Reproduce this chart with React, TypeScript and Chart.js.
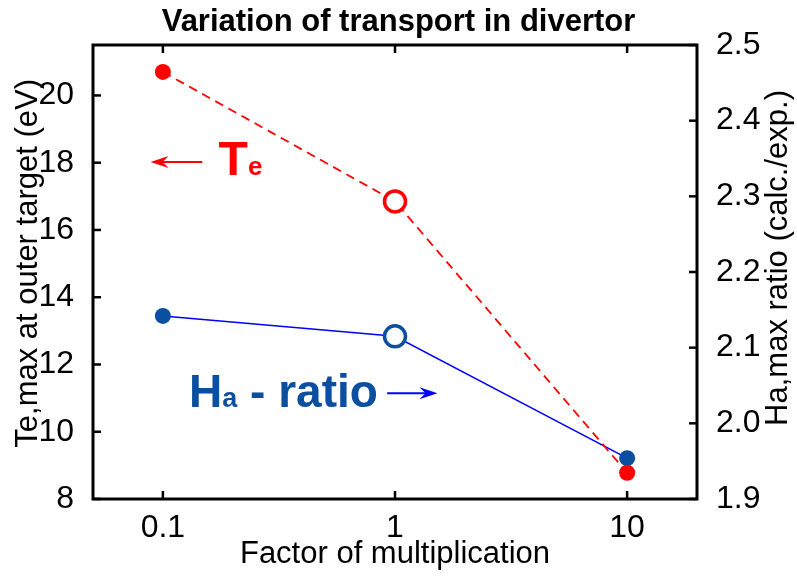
import React, { useEffect, useRef } from "react";
import { Chart, registerables } from "chart.js";

Chart.register(...registerables);

// ---- data ----
const factors = [0.1, 1, 10];
const teMax = [20.7, 16.85, 8.78];
const haRatio = [2.142, 2.115, 1.954];
const openMarker = [false, true, false];

const xTicks = [0.1, 1, 10];
const xTickLabels = ["0.1", "1", "10"];
const leftTicks = [8, 10, 12, 14, 16, 18, 20];
const rightTicks = [1.9, 2.0, 2.1, 2.2, 2.3, 2.4, 2.5];

const leftTitle = "Te,max at outer target (eV)";
const rightTitle = "Ha,max ratio (calc./exp.)";

// annotation anchors (data units)
const teArrowX = [0.1478, 0.0885];
const teArrowY = 18.02;
const teTextX = 0.1738;
const teTextY = 17.63;
const haTextX = 0.1297;
const haTextY = 2.022;
const haArrowX = [0.925, 1.524];
const haArrowY = 2.0397;

const FONT = "'Liberation Sans', Arial, Helvetica, sans-serif";
const RED = "#ff0000";
const BLUE_LINE = "#0000ff";
const BLUE_MARK = "#0b4fa0";

function arrow(ctx: CanvasRenderingContext2D, x1: number, x2: number, y: number, color: string) {
  const dir = x2 > x1 ? 1 : -1;
  ctx.save();
  ctx.strokeStyle = color;
  ctx.fillStyle = color;
  ctx.lineWidth = 2;
  ctx.beginPath();
  ctx.moveTo(x1, y);
  ctx.lineTo(x2 - dir * 8, y);
  ctx.stroke();
  ctx.beginPath();
  ctx.moveTo(x2, y);
  ctx.lineTo(x2 - dir * 18, y - 6);
  ctx.lineTo(x2 - dir * 12, y);
  ctx.lineTo(x2 - dir * 18, y + 6);
  ctx.closePath();
  ctx.fill();
  ctx.restore();
}

function vText(ctx: CanvasRenderingContext2D, text: string, baselineX: number, topY: number) {
  ctx.save();
  ctx.translate(baselineX, topY);
  ctx.rotate(-Math.PI / 2);
  ctx.textAlign = "right";
  ctx.textBaseline = "alphabetic";
  ctx.fillStyle = "#000";
  ctx.font = `31px ${FONT}`;
  ctx.fillText(text, 0, 0);
  ctx.restore();
}

const decorPlugin = {
  id: "decor",
  afterDraw(chart: any) {
    const { ctx, chartArea: a, scales } = chart;
    const line = (x1: number, y1: number, x2: number, y2: number) => {
      ctx.beginPath();
      ctx.moveTo(x1, y1);
      ctx.lineTo(x2, y2);
      ctx.stroke();
    };
    ctx.save();
    ctx.strokeStyle = "#000";
    ctx.lineWidth = 3;
    ctx.strokeRect(a.left, a.top, a.right - a.left, a.bottom - a.top);
    ctx.lineWidth = 2.5;
    const tl = 8;
    xTicks.forEach((v) => {
      const x = scales.x.getPixelForValue(v);
      line(x, a.bottom, x, a.bottom - tl);
      line(x, a.top, x, a.top + tl);
    });
    leftTicks.forEach((v) => {
      const y = scales.y.getPixelForValue(v);
      line(a.left, y, a.left + tl, y);
    });
    rightTicks.forEach((v) => {
      const y = scales.y1.getPixelForValue(v);
      line(a.right, y, a.right - tl, y);
    });

    // axis titles (both read bottom-to-top)
    vText(ctx, leftTitle, 37, 79);
    vText(ctx, rightTitle, 786.5, 90);

    // Te annotation
    const tay = scales.y.getPixelForValue(teArrowY);
    arrow(ctx, scales.x.getPixelForValue(teArrowX[0]), scales.x.getPixelForValue(teArrowX[1]), tay, RED);
    let tx = scales.x.getPixelForValue(teTextX);
    const tby = scales.y.getPixelForValue(teTextY);
    ctx.fillStyle = RED;
    ctx.textBaseline = "alphabetic";
    ctx.textAlign = "left";
    ctx.font = `bold 48px ${FONT}`;
    ctx.fillText("T", tx, tby);
    tx += ctx.measureText("T").width;
    ctx.font = `bold 26px ${FONT}`;
    ctx.fillText("e", tx, tby);

    // Ha annotation
    let hx = scales.x.getPixelForValue(haTextX);
    const hby = scales.y1.getPixelForValue(haTextY);
    ctx.fillStyle = BLUE_MARK;
    ctx.font = `bold 46px ${FONT}`;
    ctx.fillText("H", hx, hby);
    hx += ctx.measureText("H").width;
    ctx.font = `bold 27px ${FONT}`;
    ctx.fillText("a", hx, hby);
    hx += ctx.measureText("a").width;
    ctx.font = `bold 46px ${FONT}`;
    ctx.fillText(" - ratio", hx, hby);
    const hay = scales.y1.getPixelForValue(haArrowY);
    arrow(ctx, scales.x.getPixelForValue(haArrowX[0]), scales.x.getPixelForValue(haArrowX[1]), hay, BLUE_LINE);
    ctx.restore();
  },
};

export default function App() {
  const ref = useRef<HTMLCanvasElement | null>(null);
  useEffect(() => {
    if (!ref.current) return;
    const chart = new Chart(ref.current, {
      type: "line",
      data: {
        datasets: [
          {
            label: "Te",
            data: factors.map((f, i) => ({ x: f, y: teMax[i] })),
            yAxisID: "y",
            borderColor: RED,
            borderWidth: 1.8,
            borderDash: [9, 6],
            pointBackgroundColor: openMarker.map((o) => (o ? "#ffffff" : RED)),
            pointBorderColor: RED,
            pointBorderWidth: openMarker.map((o) => (o ? 3.5 : 0)),
            pointRadius: openMarker.map((o) => (o ? 10.5 : 8)),
            pointHoverRadius: openMarker.map((o) => (o ? 10.5 : 8)),
            tension: 0,
          },
          {
            label: "Ha",
            data: factors.map((f, i) => ({ x: f, y: haRatio[i] })),
            yAxisID: "y1",
            borderColor: BLUE_LINE,
            borderWidth: 1.5,
            pointBackgroundColor: openMarker.map((o) => (o ? "#ffffff" : BLUE_MARK)),
            pointBorderColor: BLUE_MARK,
            pointBorderWidth: openMarker.map((o) => (o ? 3.5 : 0)),
            pointRadius: openMarker.map((o) => (o ? 10.5 : 8)),
            pointHoverRadius: openMarker.map((o) => (o ? 10.5 : 8)),
            tension: 0,
          },
        ],
      },
      options: {
        responsive: false,
        animation: false,
        devicePixelRatio: 1,
        layout: { padding: 0 },
        plugins: {
          legend: { display: false },
          tooltip: { enabled: false },
          title: {
            display: true,
            text: "Variation of transport in divertor",
            color: "#000",
            font: { family: FONT, size: 31, weight: "bold", lineHeight: 1.2 },
            padding: { top: 4, bottom: 3.8 },
          },
        },
        scales: {
          x: {
            type: "logarithmic",
            min: 0.05,
            max: 20,
            grid: { display: false },
            border: { display: false },
            afterBuildTicks: (s: any) => {
              s.ticks = xTicks.map((v) => ({ value: v }));
            },
            afterFit: (s: any) => {
              s.height = 77;
            },
            ticks: {
              autoSkip: false,
              maxRotation: 0,
              color: "#000",
              padding: 2,
              font: { family: FONT, size: 32, lineHeight: 1.2 },
              callback: (v: any) => xTickLabels[xTicks.indexOf(Number(v))] ?? "",
            },
            title: {
              display: true,
              text: "Factor of multiplication",
              color: "#000",
              font: { family: FONT, size: 31, lineHeight: 1.2 },
              padding: { top: 0, bottom: 3 },
            },
          },
          y: {
            position: "left",
            min: 8,
            max: 21.5,
            grid: { display: false },
            border: { display: false },
            afterBuildTicks: (s: any) => {
              s.ticks = leftTicks.map((v) => ({ value: v }));
            },
            afterFit: (s: any) => {
              s.width = 93;
            },
            ticks: {
              autoSkip: false,
              color: "#000",
              padding: 11,
              font: { family: FONT, size: 32 },
              callback: (v: any) => String(v),
            },
            title: { display: false },
          },
          y1: {
            position: "right",
            min: 1.9,
            max: 2.5,
            grid: { display: false },
            border: { display: false },
            afterBuildTicks: (s: any) => {
              s.ticks = rightTicks.map((v) => ({ value: v }));
            },
            afterFit: (s: any) => {
              s.width = 100;
            },
            ticks: {
              autoSkip: false,
              color: "#000",
              padding: 11,
              font: { family: FONT, size: 32 },
              callback: (v: any) => Number(v).toFixed(1),
            },
            title: { display: false },
          },
        },
      },
      plugins: [decorPlugin],
    } as any);
    return () => chart.destroy();
  }, []);

  return (
    <div style={{ position: "fixed", left: 0, top: 0, width: 797, height: 576, background: "#fff" }}>
      <canvas ref={ref} width={797} height={576} />
    </div>
  );
}
